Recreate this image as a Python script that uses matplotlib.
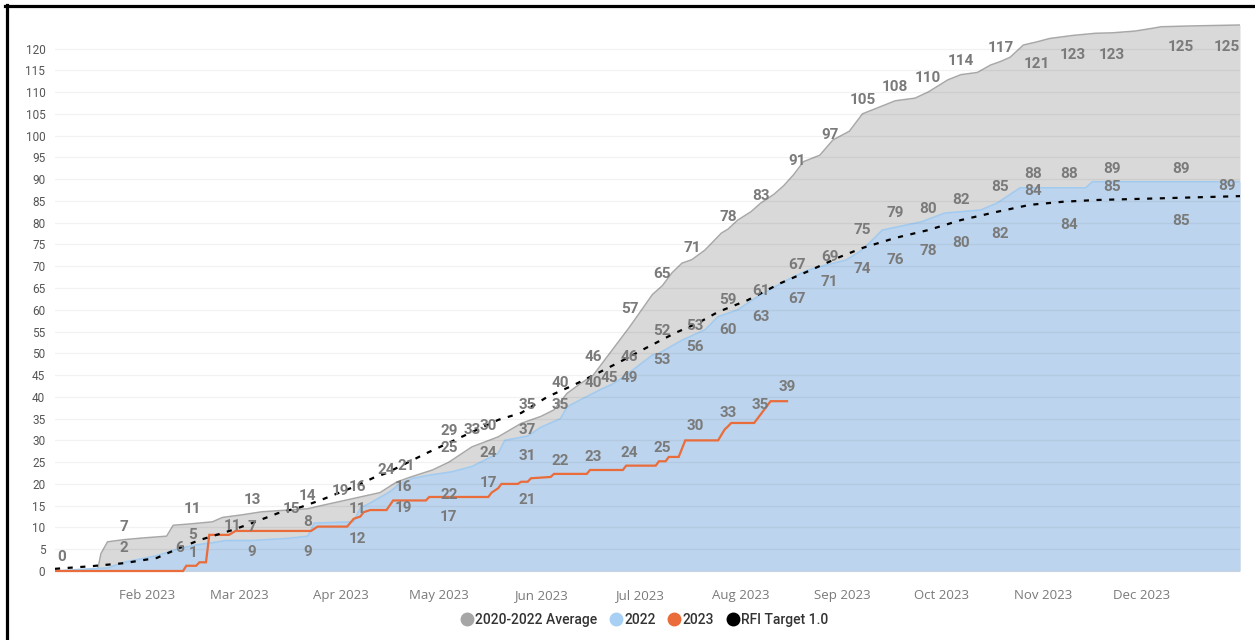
"""
Cumulative RFI count 2023 vs 2022 and the 2020-2022 average, with the RFI target.
"""

import numpy as np
import matplotlib
matplotlib.use("Agg")
import matplotlib.pyplot as plt
import matplotlib.dates as mdates
from matplotlib.lines import Line2D

plt.rcParams["font.family"] = ["Roboto", "DejaVu Sans"]

YEAR_START = np.datetime64("2023-01-01")

# ─── Data: day of year (0 = 1 Jan) and cumulative count ──────────────────────

avg_day = [3, 16, 17, 19, 24, 30, 37, 39, 44, 51, 54, 60, 66, 74, 80, 84, 90,
           96, 102, 107, 111, 118, 123, 130, 138, 145, 151, 155, 159, 163, 167,
           169, 172, 175, 178, 181, 185, 188, 191, 194, 197, 201, 206, 208, 211,
           215, 218, 222, 225, 228, 231, 236, 240, 245, 249, 254, 259, 265, 269,
           275, 279, 284, 288, 291, 294, 298, 302, 306, 313, 320, 325, 332, 337,
           340, 350, 364]
avg_val = [0, 0.3, 4, 6.7, 7.2, 7.6, 8, 10.5, 10.8, 11.3, 12.3, 12.9, 13.6, 14,
           14.3, 15, 16, 17, 18, 20.4, 21.5, 23.2, 25, 28.5, 30.8, 33.9, 35.5,
           37, 40.8, 43, 45, 47, 50, 53, 56, 59.2, 63.5, 65.5, 68.5, 70.7, 71.5,
           73.7, 77.6, 78.5, 80.6, 82.5, 84.5, 86.5, 88.5, 91, 94, 95.5, 99,
           101, 105, 106.5, 108, 108.6, 110, 112.8, 114, 114.5, 116.2, 117, 118,
           120.8, 121.5, 122.3, 123, 123.5, 123.6, 124, 124.6, 125, 125.2, 125.4]

y2022_day = [3, 16, 19, 24, 34, 41, 46, 51, 55, 63, 74, 80, 82, 94, 96, 99, 105,
             108, 112, 117, 124, 130, 138, 140, 147, 151, 157, 159, 163, 169,
             173, 177, 181, 185, 187, 194, 201, 205, 211, 217, 226, 232, 238,
             244, 248, 250, 255, 267, 274, 285, 290, 297, 317, 319, 364]
y2022_val = [0, 0.6, 0.7, 2, 3.5, 5.2, 6, 6.5, 7, 7, 7.5, 8, 11, 11.3, 14.5,
             15.6, 18.2, 20, 21.3, 22, 22.8, 24, 27, 30, 31, 33, 35, 37.7, 39.3,
             41.6, 43, 45, 47.3, 49.6, 50, 53, 55.4, 58.4, 60, 63, 66.8, 69,
             70.3, 71.4, 73.3, 74.5, 78.3, 80.2, 82.2, 82.9, 84.5, 88, 88, 89.4,
             89.4]

y2023_day = [3, 42, 43, 46, 47, 49, 50, 56, 58, 81, 83, 92, 94, 96, 97, 99, 104,
             106, 116, 117, 135, 136, 138, 139, 144, 145, 147, 148, 154, 155,
             165, 166, 176, 177, 186, 187, 189, 190, 193, 195, 205, 207, 208,
             209, 216, 217, 221, 226]
y2023_val = [0, 0, 1.2, 1.2, 2, 2, 8.3, 8.3, 9.2, 9.2, 10.2, 10.2, 12, 12.5,
             13.5, 14, 14, 16.2, 16.2, 17, 17, 18, 19, 20, 20, 20.5, 20.5, 21.3,
             21.6, 22.3, 22.3, 23.2, 23.2, 24.2, 24.2, 25.2, 25.2, 26.2, 26.2,
             30, 30, 32.5, 33.2, 34, 34, 35, 39, 39]

target_day = [3, 14, 24, 34, 41, 47, 57, 63, 71, 78, 84, 94, 100, 104, 112, 116,
              126, 138, 145, 153, 161, 169, 175, 183, 192, 199, 205, 214, 224,
              232, 242, 249, 259, 269, 279, 290, 300, 310, 320, 340, 364]
target_val = [0.5, 1.1, 1.8, 3, 5.3, 7.1, 9.4, 11, 13.3, 14.7, 16.3, 19.3, 21.4,
              22.5, 25.5, 27, 30.5, 34.7, 36.3, 40, 42.7, 45.7, 48, 51.2, 54.7,
              57, 59.5, 62.2, 66.1, 68.7, 72.1, 74.2, 76.5, 78.3, 80.6, 82.5,
              84.1, 84.8, 85.2, 85.6, 86.1]

# data labels shown on the chart: day, value, placement (a=above, b=below, c=on)
avg_lab_day = [5, 24, 45, 63, 80, 95, 110, 123, 135, 147, 157, 167, 178, 188,
               197, 208, 218, 229, 239, 249, 259, 269, 279, 291, 302, 313, 325,
               346, 360]
avg_lab_val = [0, 7, 11, 13, 14, 16, 21, 25, 30, 35, 40, 46, 57, 65, 71, 78, 83,
               91, 97, 105, 108, 110, 114, 117, 121, 123, 123, 125, 125]
avg_lab_pos = "aaaaaaaaaaaaaaaaaaaaaaaabbbbb"

y2022_lab_day = [24, 45, 63, 80, 95, 109, 123, 135, 147, 157, 167, 178, 188,
                 198, 208, 218, 229, 239, 249, 259, 269, 279, 291, 301, 312,
                 325, 346, 360]
y2022_lab_val = [2, 5, 7, 8, 11, 19, 22, 24, 31, 35, 40, 46, 52, 53, 59, 61, 67,
                 69, 75, 79, 80, 82, 85, 88, 88, 89, 89, 89]
y2022_lab_pos = "aaaaabbabaaaaaaaaaaaaaaaaaac"

y2023_lab_day = [45, 63, 80, 95, 109, 123, 135, 147, 157, 167, 178, 188, 198,
                 208, 218, 226]
y2023_lab_val = [1, 9, 9, 12, 16, 17, 17, 21, 22, 23, 24, 25, 30, 33, 35, 39]
y2023_lab_pos = "abbbababaaaaaaaa"

target_lab_day = [41, 57, 75, 90, 104, 123, 130, 147, 172, 178, 188, 198, 208,
                  218, 229, 239, 249, 259, 269, 279, 291, 301, 312, 325, 346]
target_lab_val = [6, 11, 15, 19, 24, 29, 33, 37, 45, 49, 53, 56, 60, 63, 67, 71,
                  74, 76, 78, 80, 82, 84, 84, 85, 85]
target_lab_pos = "cccccacbcbbbbbbbbbbbbabab"

legend_names = ["2020-2022 Average", "2022", "2023", "RFI Target 1.0"]

# ─── Style ───────────────────────────────────────────────────────────────────

GRAY_FILL, GRAY_EDGE, GRAY_DOT = "#d9d9d9", "#a8a8a8", "#a6a6a6"
BLUE_FILL, BLUE_EDGE, BLUE_DOT = "#bcd4ed", "#a2cbf1", "#a8d0f5"
ORANGE = "#e96c3a"
LABEL_COLOR = "#7a7a7a"
LABEL_DY = {"a": 14, "b": -20, "c": -3}   # pixel offsets


def to_dates(days):
    return YEAR_START + np.array(days, dtype="timedelta64[D]")


def draw_labels(ax, days, vals, pos):
    for d, v, p in zip(to_dates(days), vals, pos):
        ax.annotate(f"{v:g}", (d, v), xytext=(0, LABEL_DY[p]),
                    textcoords="offset pixels", ha="center", va="center",
                    fontsize=11, fontweight="bold", color=LABEL_COLOR,
                    zorder=8, annotation_clip=False)


# ─── Figure ──────────────────────────────────────────────────────────────────

W, H = 1255, 640
fig = plt.figure(figsize=(W / 100, H / 100), dpi=100)
fig.patch.set_facecolor("white")

ymin, ymax = -0.4, 127
px_per_unit = 4.354
ax_left, ax_right = 55, 1240
ax_bottom = H - (571 + (-ymin) * px_per_unit)
ax_top = H - (571 - ymax * px_per_unit)
ax = fig.add_axes([ax_left / W, ax_bottom / H,
                   (ax_right - ax_left) / W, (ax_top - ax_bottom) / H])

# areas
ax.fill_between(to_dates(avg_day), avg_val, 0, color=GRAY_FILL, lw=0, zorder=1)
ax.plot(to_dates(avg_day), avg_val, color=GRAY_EDGE, lw=1.1, zorder=2)
ax.fill_between(to_dates(y2022_day), y2022_val, 0, color=BLUE_FILL, lw=0,
                zorder=3)
ax.plot(to_dates(y2022_day), y2022_val, color=BLUE_EDGE, lw=1.2, zorder=3)

# lines
ax.plot(to_dates(y2023_day), y2023_val, color=ORANGE, lw=1.6, zorder=5,
        solid_joinstyle="miter")
tgt, = ax.plot(to_dates(target_day), target_val, color="black", lw=1.6,
               zorder=6)
tgt.set_dashes((2.3, 3.4))

# grid on top, very faint
for yv in range(0, 121, 5):
    ax.axhline(yv, color=(0, 0, 0, 0.05), lw=0.9, zorder=4)

draw_labels(ax, avg_lab_day, avg_lab_val, avg_lab_pos)
draw_labels(ax, y2022_lab_day, y2022_lab_val, y2022_lab_pos)
draw_labels(ax, y2023_lab_day, y2023_lab_val, y2023_lab_pos)
draw_labels(ax, target_lab_day, target_lab_val, target_lab_pos)

# axes
ax.set_xlim(YEAR_START + np.timedelta64(3, "D"),
            YEAR_START + np.timedelta64(364, "D"))
ax.set_ylim(ymin, ymax)
ax.set_yticks(range(0, 121, 5))
ax.xaxis.set_major_locator(mdates.MonthLocator())
ax.xaxis.set_major_formatter(mdates.DateFormatter("%b %Y"))
ax.tick_params(axis="y", length=0, pad=7, labelsize=8.5, labelcolor="#555555")
ax.tick_params(axis="x", length=0, pad=12, labelsize=9.5, labelcolor="#7a7a7a")
for lab in ax.get_xticklabels():
    lab.set_family(["Open Sans", "DejaVu Sans"])
for sp in ax.spines.values():
    sp.set_visible(False)
ax.set_facecolor("white")

# legend
handles = [Line2D([], [], marker="o", ls="", markersize=9, color=c)
           for c in (GRAY_DOT, BLUE_DOT, ORANGE, "black")]
fig.legend(handles, legend_names, loc="center", ncol=4,
           bbox_to_anchor=(0.514, 20 / H), frameon=False,
           handlelength=0.7, handletextpad=0.25, columnspacing=1.0,
           prop={"size": 10, "weight": "medium"}, labelcolor="#333333")

# screenshot frame (left and top edges)
fig.add_artist(Line2D([6.5 / W, 6.5 / W], [0, 1 - 5 / H], color="black",
                      lw=2.3, transform=fig.transFigure))
fig.add_artist(Line2D([5 / W, 1], [1 - 6 / H, 1 - 6 / H], color="black",
                      lw=2.3, transform=fig.transFigure))

fig.savefig("out.png", dpi=100)
